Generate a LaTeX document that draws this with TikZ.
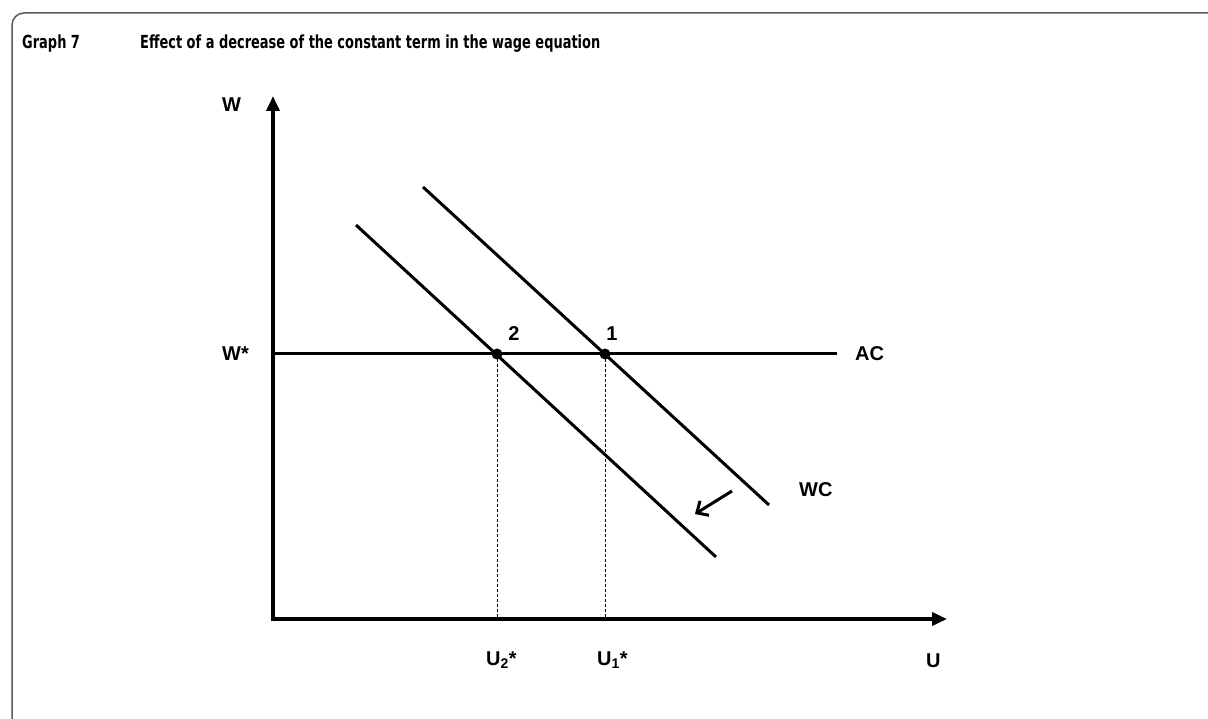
\documentclass[tikz,border=0pt]{standalone}
\usepackage{fontspec}
\setmainfont{Liberation Sans}
\newfontfamily\titlefont{DejaVu Sans}[FakeStretch=0.72]
\usetikzlibrary{arrows.meta}
\begin{document}
\begin{tikzpicture}[x=1pt,y=-1pt,
  lbl/.style={font=\fontsize{20}{24}\selectfont\bfseries, inner sep=0pt},
  ttl/.style={font=\titlefont\fontsize{18}{22}\selectfont\bfseries, inner sep=0pt, anchor=base west},
  axis/.style={line width=3.6pt, -{Triangle[length=15pt,width=13pt]}},
  curve/.style={line width=3pt},
  guide/.style={line width=1pt, dash pattern=on 3pt off 2pt},
  dot/.style={circle, fill=black, minimum size=11pt, inner sep=0pt},
  frame/.style={draw=black!65, line width=1.5pt},
  shift arrow/.style={line width=3pt, -{Straight Barb[length=9pt,width=17pt]}}
]
\useasboundingbox (0,0) rectangle (1208,719);
% frame
\coordinate (fb) at (12,720);
\coordinate (fc) at (12,13);
\coordinate (fr) at (1209,13);
\draw[frame, rounded corners=12pt] (fb) -- (fc) -- (fr);
% title
\node[ttl] (gnum) at (22,49) {Graph 7};
\node[ttl] (gtitle) at (140,49) {Effect of a decrease of the constant term in the wage equation};
% axes
\coordinate (O) at (273,619);
\coordinate (Ostart) at (273,621);
\coordinate (Oh) at (271.2,619);
\coordinate (ytop) at (273,96);
\coordinate (xend) at (947,619);
\draw[axis] (Ostart) -- (ytop);
\draw[axis] (Oh) -- (xend);
% AC line
\coordinate (acL) at (273,354);
\coordinate (acR) at (837,354);
\draw[curve] (acL) -- (acR);
% WC lines
\coordinate (wc1a) at (423,187);
\coordinate (wc1b) at (769,505);
\coordinate (wc2a) at (356,225);
\coordinate (wc2b) at (716,557);
\draw[curve] (wc1a) -- (wc1b);
\draw[curve] (wc2a) -- (wc2b);
% equilibrium points
\node[dot] (p1) at (605,354) {};
\node[dot] (p2) at (497,354) {};
\coordinate (u1) at (605,619);
\coordinate (u2) at (497,619);
\draw[guide] (p1.center) -- (u1);
\draw[guide] (p2.center) -- (u2);
% shift arrow
\coordinate (sa) at (732,491);
\coordinate (sb) at (695,514);
\draw[shift arrow] (sa) -- (sb);
% labels
\node[lbl, anchor=base west] (lW) at (222,112) {W};
\node[lbl, anchor=base west] (lWs) at (222,360) {W*};
\node[lbl, anchor=base west] (lAC) at (855,360) {AC};
\node[lbl, anchor=base west] (lWC) at (799,496) {WC};
\node[lbl, anchor=base] (l1) at (612,341) {1};
\node[lbl, anchor=base] (l2) at (514,341) {2};
\node[lbl, anchor=base west] (lU2) at (486,665) {U\textsubscript{2}*};
\node[lbl, anchor=base west] (lU1) at (597,665) {U\textsubscript{1}*};
\node[lbl, anchor=base west] (lU) at (926,667) {U};
\end{tikzpicture}
\end{document}
